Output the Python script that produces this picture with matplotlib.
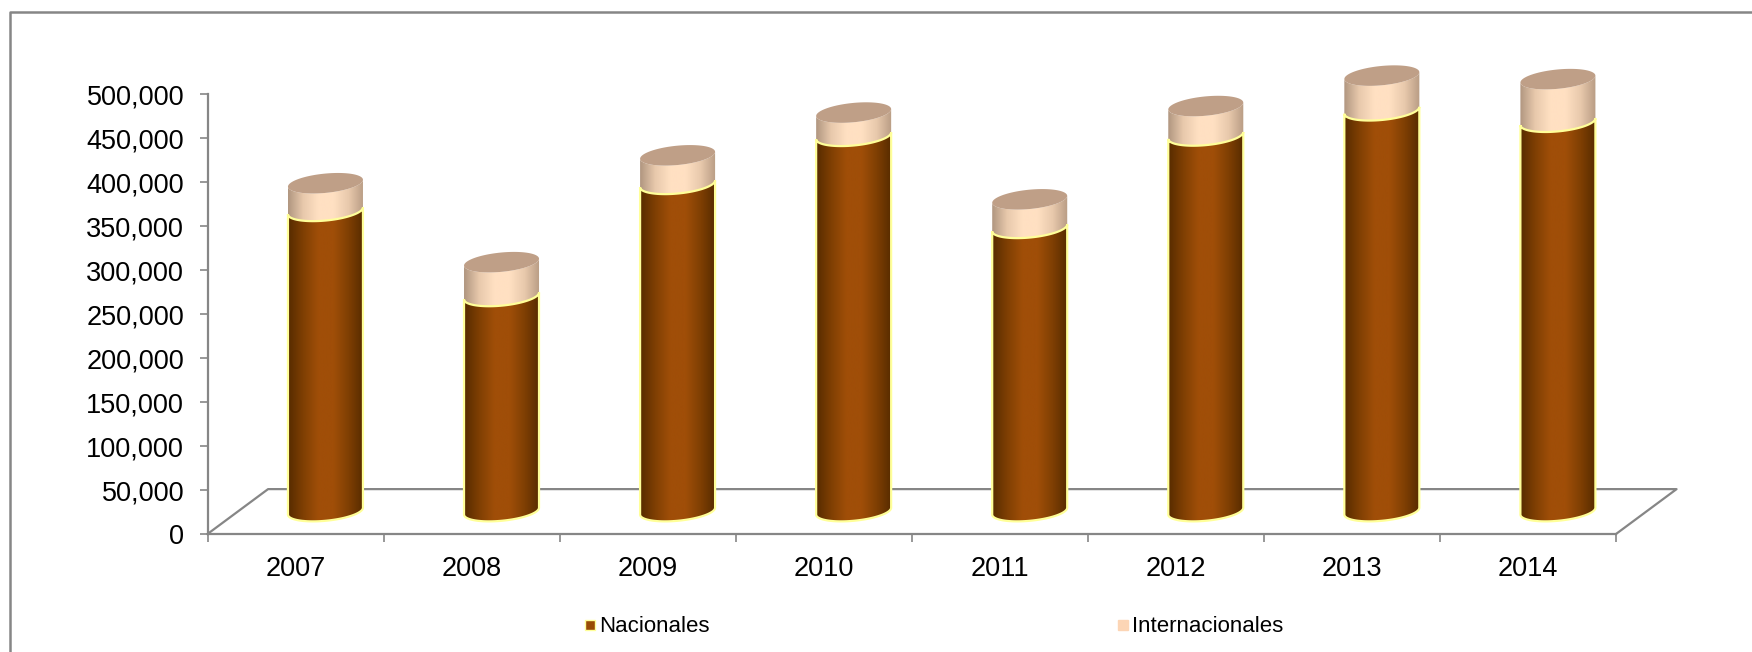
import numpy as np
import matplotlib
matplotlib.use("Agg")
import matplotlib.pyplot as plt
from matplotlib.colors import LinearSegmentedColormap
from matplotlib.lines import Line2D
from matplotlib.patches import Polygon

plt.rcParams["font.family"] = ["Liberation Sans", "DejaVu Sans"]

years = ["2007", "2008", "2009", "2010", "2011", "2012", "2013", "2014"]
nacionales = [341200, 244500, 371900, 426500, 321900, 426900, 455500, 442500]
internacionales = [31400, 38400, 32400, 26400, 32400, 33400, 39400, 48400]
yticks = list(range(0, 500001, 50000))

GRAY = "#868686"
cmap_nac = LinearSegmentedColormap.from_list("nac", ["#562b00", "#7f3f03", "#a04e08", "#a04e08", "#7f3f03", "#562b00"])
cmap_int = LinearSegmentedColormap.from_list("int", ["#b09680", "#e8c9ac", "#ffe0c2", "#ffe0c2", "#e8c9ac", "#b89c84"])

W, H = 1752, 652
fig = plt.figure(figsize=(W / 100, H / 100), dpi=100)
# marco exterior: solo se ven el borde superior e izquierdo
fig.add_artist(Line2D([9.5 / W, 9.5 / W, 1], [0, 1 - 11.5 / H, 1 - 11.5 / H], transform=fig.transFigure,
                      color=GRAY, lw=1.8))

ax = fig.add_axes([207.5 / W, 1 - 534 / H, (1616 - 207.5) / W, 440 / H])

# piso en perspectiva
depth_x, depth_y = 0.344, 51000
ax.plot([0, depth_x, 8 + depth_x, 8], [0, depth_y, depth_y, 0], color=GRAY, lw=1.6, clip_on=False, zorder=1)

half_w = 0.213
tilt, semi = 3900, 11000
base_y = 26000
grad = np.linspace(0, 1, 256).reshape(1, -1)


def ring(cx, cy, t):
    return np.column_stack([cx + half_w * np.cos(t), cy + tilt * np.cos(t) + semi * np.sin(t)])


def side(cx, y0, y1, cmap, z, edge=None):
    # cuerpo del cilindro: degradado recortado con la silueta
    t_low = np.linspace(np.pi, 2 * np.pi, 60)
    pts = np.vstack([ring(cx, y0, t_low), ring(cx, y1, t_low[::-1])])
    im = ax.imshow(grad, cmap=cmap, extent=[cx - half_w, cx + half_w, y0 - 20000, y1 + 20000],
                   aspect="auto", zorder=z)
    patch = Polygon(pts, closed=True, transform=ax.transData, facecolor="none", edgecolor=edge or "none",
                    lw=1.6, zorder=z + 0.1, clip_on=False)
    ax.add_patch(patch)
    im.set_clip_path(patch)
    im.set_clip_box(fig.bbox)


for i, (nac, inter) in enumerate(zip(nacionales, internacionales)):
    cx = i + 0.5 + 0.17
    side(cx, base_y, base_y + nac + inter, cmap_int, 3)
    side(cx, base_y, base_y + nac, cmap_nac, 4, edge="#ffff99")
    top = ring(cx, base_y + nac + inter, np.linspace(0, 2 * np.pi, 120))
    ax.add_patch(Polygon(top, closed=True, facecolor="#bf9f87", edgecolor="none", zorder=5, clip_on=False))

ax.set_xlim(0, 8)
ax.set_ylim(0, 500000)
ax.set_yticks(yticks)
ax.set_yticklabels([f"{v:,}" for v in yticks], fontsize=19.5)
ax.set_xticks(range(9))
ax.set_xticklabels([])
ax.set_xticks(np.arange(8) + 0.5, labels=years, minor=True, fontsize=19.5)
ax.tick_params(axis="x", which="major", length=6, width=1.2, color=GRAY)
ax.tick_params(axis="x", which="minor", length=0, pad=16)
ax.tick_params(axis="y", length=6, width=1.2, color=GRAY, pad=10.8)
for name in ["top", "right"]:
    ax.spines[name].set_visible(False)
for name in ["left", "bottom"]:
    ax.spines[name].set_color(GRAY)
    ax.spines[name].set_linewidth(1.6)

handles = [Line2D([], [], ls="", marker="s", ms=7, mfc="#994c05", mec="#ffff99", label="Nacionales"),
           Line2D([], [], ls="", marker="s", ms=7, mfc="#fcd5b5", mec="#fcd5b5", label="Internacionales")]
fig.legend(handles=handles, ncol=2, loc="center", bbox_to_anchor=(931 / W, 1 - 627 / H), frameon=False,
           fontsize=16, columnspacing=18.1, handletextpad=-0.1, handlelength=1)

fig.savefig("out.png", dpi=100)
